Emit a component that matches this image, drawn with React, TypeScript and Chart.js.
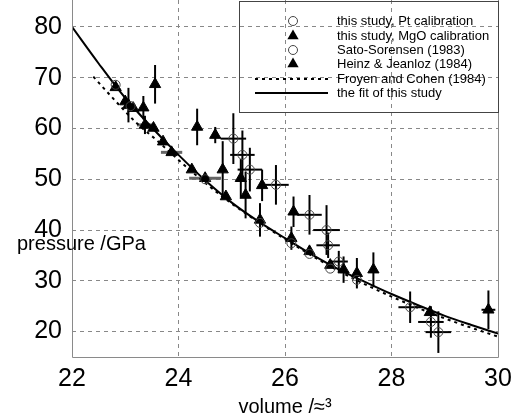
import React, { useEffect, useRef } from 'react';
import { Chart, registerables } from 'chart.js';

Chart.register(...registerables);

const FONT = 'Arial, "Liberation Sans", Helvetica, sans-serif';

const xTicks = [22, 24, 26, 28, 30];
const yTicks = [20, 30, 40, 50, 60, 70, 80];

// the fit of this study
const fitVol = [22, 22.5, 23, 23.5, 24, 24.5, 25, 25.5, 26, 26.5, 27, 27.5, 28, 28.5, 29, 29.5, 30];
const fitP = [80, 72.8, 66.0, 60.2, 54.8, 49.8, 45.4, 41.7, 38.4, 35.2, 32.3, 29.8, 27.4, 25.2, 23.1, 21.3, 19.6];

// Froyen and Cohen (1984)
const fcVol = [22.4, 22.8, 23.2, 23.6, 24.0, 24.5, 25, 26, 27, 28, 29, 30];
const fcP = [70.2, 65.6, 61.2, 57.6, 53.8, 49.3, 45.2, 38.2, 32.0, 26.9, 22.6, 19.0];

// this study, Pt calibration
const ptVol = [25.03, 25.2, 25.34, 25.83, 26.46, 26.78, 26.81, 27.01, 28.35, 28.74, 28.88];
const ptP = [58.0, 54.8, 51.9, 48.9, 43.0, 40.0, 37.0, 33.8, 24.8, 21.9, 19.9];
const ptVErr = [0.24, 0.23, 0.23, 0.24, 0.23, 0.25, 0.22, 0.17, 0.22, 0.24, 0.24];
const ptPErr = [5.0, 4.8, 4.3, 3.9, 3.9, 4.9, 2.5, 2.1, 3.1, 3.1, 4.1];

// this study, MgO calibration
const mgVol = [23.06, 23.34, 23.56, 24.35, 24.69, 24.83, 25.17, 25.26, 25.53, 25.57, 26.12, 26.16, 27.1, 27.35, 27.66, 29.82];
const mgP = [64.6, 64.1, 68.7, 60.3, 58.7, 51.9, 50.2, 46.9, 42.0, 48.8, 38.4, 43.6, 32.2, 31.5, 32.2, 24.3];
const mgVErr = [0, 0, 0, 0, 0, 0, 0, 0, 0, 0, 0, 0, 0, 0, 0, 0.13];
const mgPErr = [3.4, 2.3, 3.8, 3.6, 1.6, 5.6, 3.8, 4.6, 3.3, 3.1, 2.3, 3.0, 2.6, 3.0, 3.4, 3.8];

// Sato-Sorensen (1983)
const ssVol = [22.82, 23.1, 24.5, 25.53, 26.12, 26.46, 26.85, 27.35];
const ssP = [68.6, 64.4, 50.0, 41.4, 37.4, 35.3, 32.4, 30.2];

// Heinz & Jeanloz (1984)
const hjVol = [22.82, 23.0, 23.15, 23.37, 23.53, 23.71, 23.87, 24.25, 24.5, 24.89, 26.46, 26.85, 28.72];
const hjP = [68.1, 65.3, 64.0, 60.7, 60.1, 57.4, 55.3, 51.9, 50.2, 46.6, 35.8, 33.1, 23.8];
const hjVErr = [0, 0, 0, 0.15, 0, 0, 0.2, 0, 0.3, 0, 0, 0, 0];
const hjPErr = [0, 0, 0, 1.8, 0, 0, 0, 0, 0, 0, 0, 0, 0];

const legendLabels = [
  'this study, Pt calibration',
  'this study, MgO calibration',
  'Sato-Sorensen (1983)',
  'Heinz & Jeanloz (1984)',
  'Froyen and Cohen (1984)',
  'the fit of this study',
];

const toPts = (xs: number[], ys: number[]) => xs.map((x, i) => ({ x, y: ys[i] }));

const errorBarPlugin = {
  id: 'errorBars',
  beforeDatasetsDraw(chart: any) {
    const { ctx } = chart;
    const xs = chart.scales.x;
    const ys = chart.scales.y;
    ctx.save();
    chart.data.datasets.forEach((ds: any) => {
      if (!ds.xErr && !ds.yErr) return;
      ds.data.forEach((pt: any, i: number) => {
        const px = xs.getPixelForValue(pt.x);
        const py = ys.getPixelForValue(pt.y);
        const ye = ds.yErr ? ds.yErr[i] : 0;
        const xe = ds.xErr ? ds.xErr[i] : 0;
        ctx.strokeStyle = '#000';
        ctx.lineWidth = 2;
        if (ye > 0) {
          ctx.beginPath();
          ctx.moveTo(px, ys.getPixelForValue(pt.y + ye));
          ctx.lineTo(px, ys.getPixelForValue(pt.y - ye));
          ctx.stroke();
        }
        if (xe > 0) {
          ctx.lineWidth = ds.xErrWidth || 2;
          ctx.strokeStyle = ds.xErrColor || '#000';
          ctx.beginPath();
          ctx.moveTo(xs.getPixelForValue(pt.x - xe), py);
          ctx.lineTo(xs.getPixelForValue(pt.x + xe), py);
          ctx.stroke();
        }
      });
    });
    ctx.restore();
  },
};

const decorPlugin = {
  id: 'decor',
  afterDraw(chart: any) {
    const { ctx, chartArea } = chart;
    const { left, right, bottom } = chartArea;
    ctx.save();
    // frame
    ctx.strokeStyle = '#8a8a8a';
    ctx.lineWidth = 1;
    ctx.beginPath();
    ctx.moveTo(left + 0.5, 0);
    ctx.lineTo(left + 0.5, bottom + 0.5);
    ctx.lineTo(right + 0.5, bottom + 0.5);
    ctx.lineTo(right + 0.5, 0);
    ctx.stroke();

    // y axis title (horizontal, inside left area)
    ctx.fillStyle = '#000';
    ctx.font = `20px ${FONT}`;
    ctx.textBaseline = 'alphabetic';
    ctx.textAlign = 'left';
    ctx.fillText('pressure /GPa', 17, 250);

    // legend box
    const bx = 239;
    const by = 1;
    const bw = right - bx;
    const bh = 111;
    ctx.strokeStyle = '#444';
    ctx.lineWidth = 1;
    ctx.strokeRect(bx + 0.5, by + 0.5, bw, bh);

    const rows = [21, 36, 50, 64, 79, 93];
    const mx = 293;
    const tx = 337;
    ctx.font = `13px ${FONT}`;
    ctx.textBaseline = 'middle';
    legendLabels.forEach((label, i) => {
      const y = rows[i];
      if (i === 0 || i === 2) {
        ctx.strokeStyle = '#444';
        ctx.lineWidth = 1;
        ctx.beginPath();
        ctx.arc(mx, y, 4.5, 0, Math.PI * 2);
        ctx.stroke();
      } else if (i === 1 || i === 3) {
        const r = 6.5;
        ctx.fillStyle = '#000';
        ctx.beginPath();
        ctx.moveTo(mx, y - r);
        ctx.lineTo(mx + 0.866 * r, y + 0.5 * r);
        ctx.lineTo(mx - 0.866 * r, y + 0.5 * r);
        ctx.closePath();
        ctx.fill();
      } else {
        ctx.strokeStyle = '#000';
        ctx.lineWidth = 2;
        ctx.setLineDash(i === 4 ? [3, 4] : []);
        ctx.beginPath();
        ctx.moveTo(255, y);
        ctx.lineTo(328, y);
        ctx.stroke();
        ctx.setLineDash([]);
      }
      ctx.fillStyle = '#000';
      ctx.fillText(label, tx, y);
    });
    ctx.restore();
  },
};

export default function App() {
  const ref = useRef<HTMLCanvasElement | null>(null);

  useEffect(() => {
    document.body.style.margin = '0';
    const canvas = ref.current;
    if (!canvas) return;
    const chart = new Chart(canvas, {
      type: 'scatter',
      data: {
        datasets: [
          {
            label: legendLabels[2],
            data: toPts(ssVol, ssP),
            pointStyle: 'circle',
            pointRadius: 4.5,
            pointBorderColor: '#444',
            pointBorderWidth: 1,
            pointBackgroundColor: 'rgba(255,255,255,0)',
          },
          {
            label: legendLabels[0],
            data: toPts(ptVol, ptP),
            xErr: ptVErr,
            yErr: ptPErr,
            pointStyle: 'circle',
            pointRadius: 4.5,
            pointBorderColor: '#444',
            pointBorderWidth: 1,
            pointBackgroundColor: 'rgba(255,255,255,0)',
          },
          {
            label: legendLabels[1],
            data: toPts(mgVol, mgP),
            xErr: mgVErr,
            yErr: mgPErr,
            pointStyle: 'triangle',
            pointRadius: 6.5,
            pointBorderColor: '#000',
            pointBorderWidth: 1,
            pointBackgroundColor: '#000',
          },
          {
            label: legendLabels[3],
            data: toPts(hjVol, hjP),
            xErr: hjVErr,
            yErr: hjPErr,
            xErrWidth: 3,
            xErrColor: '#666',
            pointStyle: 'triangle',
            pointRadius: 6.5,
            pointBorderColor: '#000',
            pointBorderWidth: 1,
            pointBackgroundColor: '#000',
          },
          {
            label: legendLabels[5],
            data: toPts(fitVol, fitP),
            showLine: true,
            borderColor: '#000',
            borderWidth: 2,
            pointRadius: 0,
            cubicInterpolationMode: 'monotone',
          },
          {
            label: legendLabels[4],
            data: toPts(fcVol, fcP),
            showLine: true,
            borderColor: '#000',
            borderWidth: 2,
            borderDash: [3, 4],
            pointRadius: 0,
            cubicInterpolationMode: 'monotone',
          },
        ] as any,
      },
      options: {
        responsive: false,
        devicePixelRatio: 1,
        animation: false,
        layout: { autoPadding: false, padding: { left: 0, right: 24, top: 0, bottom: 0 } },
        plugins: {
          legend: { display: false },
          tooltip: { enabled: false },
        },
        scales: {
          x: {
            type: 'linear',
            min: 22,
            max: 30,
            afterBuildTicks: (s: any) => {
              s.ticks = xTicks.map((v) => ({ value: v }));
            },
            afterFit: (s: any) => {
              s.height = 62;
              s.paddingLeft = 0;
              s.paddingRight = 0;
            },
            grid: { color: '#888', drawTicks: false, lineWidth: 1 },
            border: { display: false, dash: [4, 4] },
            ticks: {
              font: { size: 25, family: FONT },
              color: '#000',
              padding: 7,
              maxRotation: 0,
              autoSkip: false,
            },
            title: {
              display: true,
              text: 'volume /≈³',
              font: { size: 20, family: FONT },
              color: '#000',
              padding: { top: 0, bottom: 0 },
            },
          },
          y: {
            type: 'linear',
            min: 15,
            max: 85.3,
            afterBuildTicks: (s: any) => {
              s.ticks = yTicks.map((v) => ({ value: v }));
            },
            afterFit: (s: any) => {
              s.width = 72;
              s.paddingTop = 0;
              s.paddingBottom = 0;
            },
            grid: { color: '#888', drawTicks: false, lineWidth: 1 },
            border: { display: false, dash: [4, 4] },
            ticks: {
              font: { size: 25, family: FONT },
              color: '#000',
              padding: 10,
            },
          },
        },
      } as any,
      plugins: [errorBarPlugin, decorPlugin],
    });
    return () => chart.destroy();
  }, []);

  return <canvas ref={ref} width={522} height={419} style={{ display: 'block' }} />;
}
